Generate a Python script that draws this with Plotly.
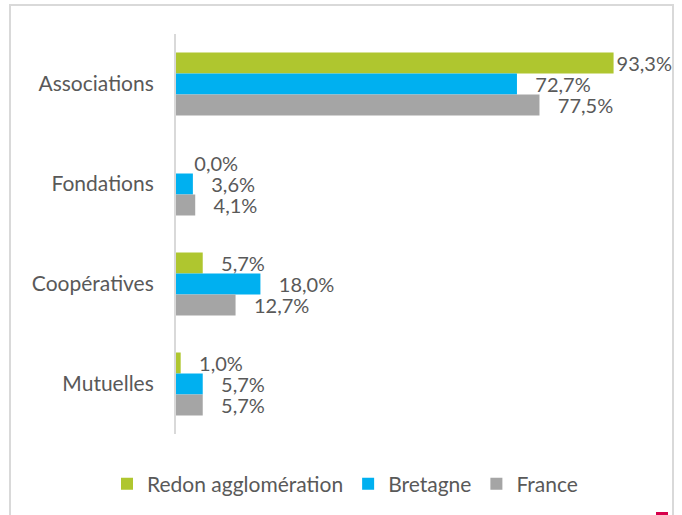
import plotly.graph_objects as go

# categories, top to bottom
categories = ["Associations", "Fondations", "Coopératives", "Mutuelles"]

# share of ESS establishments by type (%)
redon = [93.3, 0.0, 5.7, 1.0]
bretagne = [72.7, 3.6, 18.0, 5.7]
france = [77.5, 4.1, 12.7, 5.7]

series_names = ["Redon agglomération", "Bretagne", "France"]
series_colors = ["#AFC62F", "#00B0F0", "#A5A5A5"]

TEXT_COLOR = "#595959"
FONT = "Lato"

W, H = 682, 515
L, R, T, B = 176, 10, 34, 81
PW, PH = W - L - R, H - T - B
PX_PER_UNIT = 469 / 100  # bar scale


def fmt(v):
    # labels sit a bit away from the bar end, except when they run out of room
    pad = "" if v > 90 else "   "
    return pad + ("%.1f" % v).replace(".", ",") + "%"


fig = go.Figure()
for name, vals, col in zip(series_names, [redon, bretagne, france], series_colors):
    fig.add_trace(go.Bar(
        y=categories,
        x=vals,
        name=name,
        orientation="h",
        marker=dict(color=col, line=dict(width=0)),
        text=[fmt(v) for v in vals],
        textposition="outside",
        textfont=dict(family=FONT, size=20, color=TEXT_COLOR),
        constraintext="none",
        cliponaxis=False,
        hoverinfo="skip",
    ))

# light frame around the chart, like the exported office chart
fig.add_shape(
    type="rect", xref="paper", yref="paper",
    x0=(10 - L) / PW, x1=(673 - L) / PW,
    y0=(T + PH - 522) / PH, y1=(T + PH - 5) / PH,
    line=dict(color="#D9D9D9", width=2), fillcolor="rgba(0,0,0,0)",
    layer="below",
)
# small red mark at the bottom right corner
fig.add_shape(
    type="rect", xref="paper", yref="paper",
    x0=(656 - L) / PW, x1=(668 - L) / PW,
    y0=(T + PH - 516) / PH, y1=(T + PH - 512) / PH,
    line=dict(width=0), fillcolor="#D6004B",
)

fig.update_layout(
    width=W, height=H,
    margin=dict(l=L, r=R, t=T, b=B),
    template="plotly_white",
    paper_bgcolor="white",
    plot_bgcolor="white",
    barmode="group",
    bargap=0.37,
    bargroupgap=0,
    separators=", ",
    font=dict(family=FONT, size=21, color=TEXT_COLOR),
    xaxis=dict(range=[0, PW / PX_PER_UNIT], visible=False,
               showgrid=False, zeroline=False),
    yaxis=dict(
        autorange="reversed",
        showline=True, linecolor="#D9D9D9", linewidth=2,
        showgrid=False, zeroline=False,
        ticks="", ticklabelstandoff=16,
        tickfont=dict(family=FONT, size=21, color=TEXT_COLOR),
    ),
    showlegend=True,
    legend=dict(
        orientation="h",
        x=(345 - L) / PW, xanchor="center",
        y=(T + PH - 484) / PH, yanchor="middle",
        font=dict(family=FONT, size=21, color=TEXT_COLOR),
        itemwidth=30,
        traceorder="normal",
    ),
)

# drop the browser's default body margin so the chart sits at the page corner
fig.write_html(
    "out.html",
    config={"displayModeBar": False},
    post_script="document.body.style.margin='0';",
)
